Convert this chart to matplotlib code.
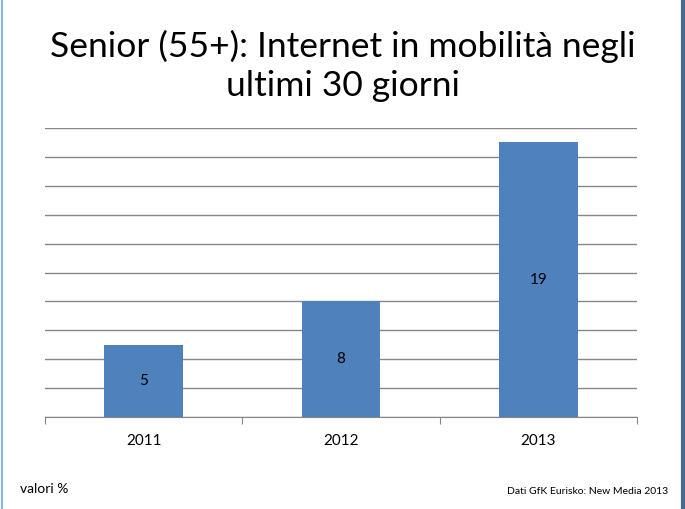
import matplotlib
matplotlib.use("Agg")
import matplotlib.pyplot as plt
from matplotlib.lines import Line2D

# data
anni = ["2011", "2012", "2013"]
valori = [5, 8, 19]

titolo = "Senior (55+): Internet in mobilità negli\nultimi 30 giorni"
nota_sx = "valori %"
nota_dx = "Dati GfK Eurisko: New Media 2013"

plt.rcParams['font.family'] = ['Lato', 'DejaVu Sans']

fig = plt.figure(figsize=(6.85, 5.09), dpi=100)
ax = fig.add_axes([45/685, 1 - 417/509, (637 - 45)/685, (417 - 128)/509])

x = list(range(len(anni)))
bars = ax.bar(x, valori, width=0.4, color="#4F81BD", zorder=3)

ax.set_xlim(-0.5, len(anni) - 0.5)
ax.set_ylim(0, 20)
ax.set_yticks(range(0, 21, 2))
ax.yaxis.grid(True, color="#868686", linewidth=1.0, zorder=0)
ax.tick_params(axis="y", left=False, labelleft=False)

# category boundaries as ticks
ax.set_xticks([-0.5, 0.5, 1.5, 2.5])
ax.set_xticklabels([])
ax.set_xticks(x, minor=True)
ax.set_xticklabels(anni, minor=True, fontsize=11)
ax.tick_params(axis="x", which="major", length=5, color="#868686", direction="out")
ax.tick_params(axis="x", which="minor", length=0, pad=12)

for s in ["top", "left", "right"]:
    ax.spines[s].set_visible(False)
ax.spines["bottom"].set_color("#868686")

for b, v in zip(bars, valori):
    ax.text(b.get_x() + b.get_width()/2, v/2, str(v), ha="center", va="center",
            fontsize=11, color="black", zorder=4)

fig.text(0.5, 1 - 66/509, titolo, ha="center", va="center", fontsize=25.5,
         linespacing=1.3)
fig.text(20/685, 1 - 489/509, nota_sx, fontsize=10, va="center")
fig.text(668/685, 1 - 492/509, nota_dx, fontsize=7.5, ha="right", va="center")

# slide borders
fig.add_artist(Line2D([2/685, 2/685], [0, 1], color="#8DB3E2", linewidth=1.5))
fig.add_artist(Line2D([683/685, 683/685], [0, 1], color="#4A6A96", linewidth=3))

fig.savefig("out.png", dpi=100)
